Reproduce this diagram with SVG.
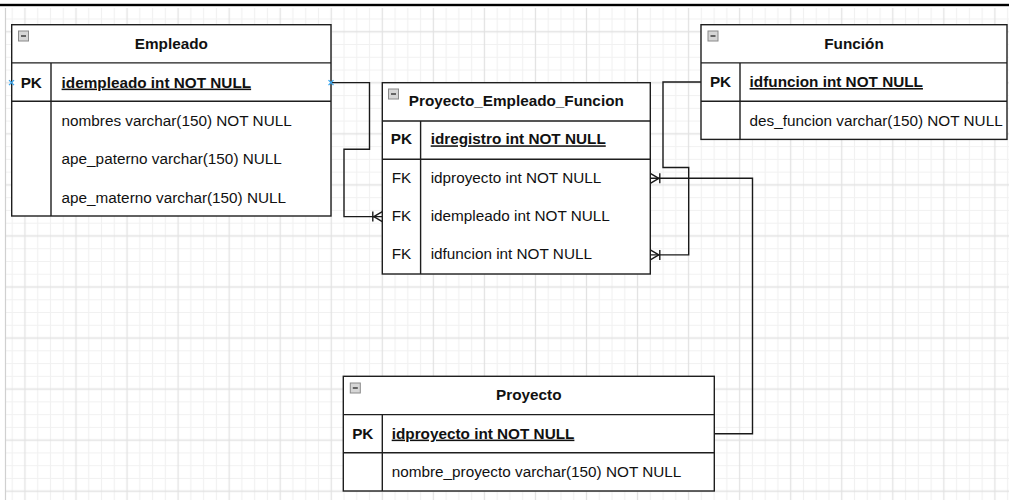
<svg xmlns="http://www.w3.org/2000/svg" width="1009" height="500" viewBox="0 0 1009 500">
  <style>
    .box { fill: #ffffff; stroke: #1e1e1e; stroke-width: 1.4; }
    .sep { stroke: #1e1e1e; stroke-width: 1.4; fill: none; }
    .txt { font-family: "Liberation Sans", Arial, Helvetica, sans-serif; font-size: 15.3px; fill: #111111; }
    .title { font-weight: bold; text-anchor: middle; }
    .key { font-weight: bold; text-anchor: middle; }
    .fk { text-anchor: middle; }
    .pkf { font-weight: bold; text-decoration: underline; }
    .conn { fill: none; stroke: #1a1a1a; stroke-width: 1.4; }
    .hover { fill: none; stroke: #3aa6ee; stroke-width: 1.3; }
    .icon { fill: #d6d6d6; stroke: #8a8a8a; stroke-width: 1; }
    .iconbar { stroke: #333333; stroke-width: 1.4; }
  </style>
  <defs>
    <!-- canvas grid: major cell 51.05, four minor subdivisions -->
    <pattern id="grid" patternUnits="userSpaceOnUse" x="18.57" y="25.37" width="51.05" height="51.05">
      <g stroke="#f1f1f1" stroke-width="1.2">
        <line x1="19.14" y1="0" x2="19.14" y2="51.05"/>
        <line x1="31.91" y1="0" x2="31.91" y2="51.05"/>
        <line x1="44.67" y1="0" x2="44.67" y2="51.05"/>
        <line x1="0" y1="19.14" x2="51.05" y2="19.14"/>
        <line x1="0" y1="31.91" x2="51.05" y2="31.91"/>
        <line x1="0" y1="44.67" x2="51.05" y2="44.67"/>
      </g>
      <g stroke="#e2e2e2" stroke-width="1.3">
        <line x1="6.38" y1="0" x2="6.38" y2="51.05"/>
        <line x1="0" y1="6.38" x2="51.05" y2="6.38"/>
      </g>
    </pattern>
    <!-- mandatory-many crow's foot at the entity end -->
    <marker id="many" markerUnits="userSpaceOnUse" markerWidth="14" markerHeight="14" refX="12" refY="7" orient="auto" overflow="visible">
      <path d="M2.5,2 V12 M3.5,7 L12,2 M3.5,7 L12,12" fill="none" stroke="#1a1a1a" stroke-width="1.4"/>
    </marker>
    <!-- collapse toggle shown in table headers -->
    <g id="toggle">
      <rect class="icon" x="0" y="0" width="10" height="10"/>
      <line class="iconbar" x1="2.5" y1="5" x2="7.5" y2="5"/>
    </g>
  </defs>

  <!-- page background -->
  <rect x="0" y="0" width="1009" height="500" fill="#ffffff"/>
  <rect x="6" y="8" width="1003" height="492" fill="url(#grid)"/>
  <line x1="5.5" y1="8" x2="5.5" y2="500" stroke="#d0d0d0" stroke-width="1.2"/>
  <rect x="0" y="3.8" width="1009" height="2.4" fill="#000000"/>

  <!-- relationships -->
  <g id="connectors">
    <path class="conn" d="M331,82.6 H369.5 V149.3 H344 V216.6 H382.3" marker-end="url(#many)"/>
    <path class="conn" d="M701,82 H663 V167.5 H688.7 V254.9 H650.3" marker-end="url(#many)"/>
    <path class="conn" d="M714.3,433.7 H752.5 V178.3 H650.3" marker-end="url(#many)"/>
  </g>

  <!-- Empleado -->
  <g id="empleado">
    <rect class="box" x="11.7" y="24.7" width="319.3" height="191.3"/>
    <path class="sep" d="M11.7,62.9 H331 M11.7,101.2 H331 M51,62.9 V216"/>
    <use href="#toggle" x="18.5" y="31"/>
    <text class="txt title" x="171.3" y="49">Empleado</text>
    <text class="txt key" x="31.3" y="87.6">PK</text>
    <text class="txt pkf" x="61.6" y="87.6">idempleado int NOT NULL</text>
    <text class="txt" x="61.6" y="125.9">nombres varchar(150) NOT NULL</text>
    <text class="txt" x="61.6" y="164.2">ape_paterno varchar(150) NULL</text>
    <text class="txt" x="61.6" y="202.5">ape_materno varchar(150) NULL</text>
  </g>
  <path class="hover" d="M9,80.1 L14,85.1 M14,80.1 L9,85.1"/>
  <path class="hover" d="M328.5,80.1 L333.5,85.1 M333.5,80.1 L328.5,85.1"/>

  <!-- Función -->
  <g id="funcion">
    <rect class="box" x="701" y="24.7" width="306" height="114.7"/>
    <path class="sep" d="M701,62.9 H1007 M701,101.2 H1007 M740,62.9 V139.4"/>
    <use href="#toggle" x="708" y="31"/>
    <text class="txt title" x="854" y="48.6">Función</text>
    <text class="txt key" x="720.5" y="87">PK</text>
    <text class="txt pkf" x="749.6" y="87">idfuncion int NOT NULL</text>
    <text class="txt" x="749.6" y="125.8">des_funcion varchar(150) NOT NULL</text>
  </g>

  <!-- Proyecto_Empleado_Funcion -->
  <g id="proyecto-empleado-funcion">
    <rect class="box" x="382.3" y="82.7" width="268" height="191.3"/>
    <path class="sep" d="M382.3,121 H650.3 M382.3,159.2 H650.3 M420.6,121 V274"/>
    <use href="#toggle" x="388.5" y="89"/>
    <text class="txt title" x="516.3" y="105.7">Proyecto_Empleado_Funcion</text>
    <text class="txt key" x="401.4" y="144.3">PK</text>
    <text class="txt pkf" x="430.7" y="144.3">idregistro int NOT NULL</text>
    <text class="txt fk" x="401.4" y="182.5">FK</text>
    <text class="txt" x="430.7" y="182.5">idproyecto int NOT NULL</text>
    <text class="txt fk" x="401.4" y="220.8">FK</text>
    <text class="txt" x="430.7" y="220.8">idempleado int NOT NULL</text>
    <text class="txt fk" x="401.4" y="258.9">FK</text>
    <text class="txt" x="430.7" y="258.9">idfuncion int NOT NULL</text>
  </g>

  <!-- Proyecto -->
  <g id="proyecto">
    <rect class="box" x="343.3" y="376.3" width="371" height="114.7"/>
    <path class="sep" d="M343.3,414.6 H714.3 M343.3,452.8 H714.3 M382.3,414.6 V491"/>
    <use href="#toggle" x="350.3" y="383"/>
    <text class="txt title" x="528.8" y="399.8">Proyecto</text>
    <text class="txt key" x="362.8" y="438.6">PK</text>
    <text class="txt pkf" x="391.7" y="438.6">idproyecto int NOT NULL</text>
    <text class="txt" x="391.7" y="476.7">nombre_proyecto varchar(150) NOT NULL</text>
  </g>
</svg>
